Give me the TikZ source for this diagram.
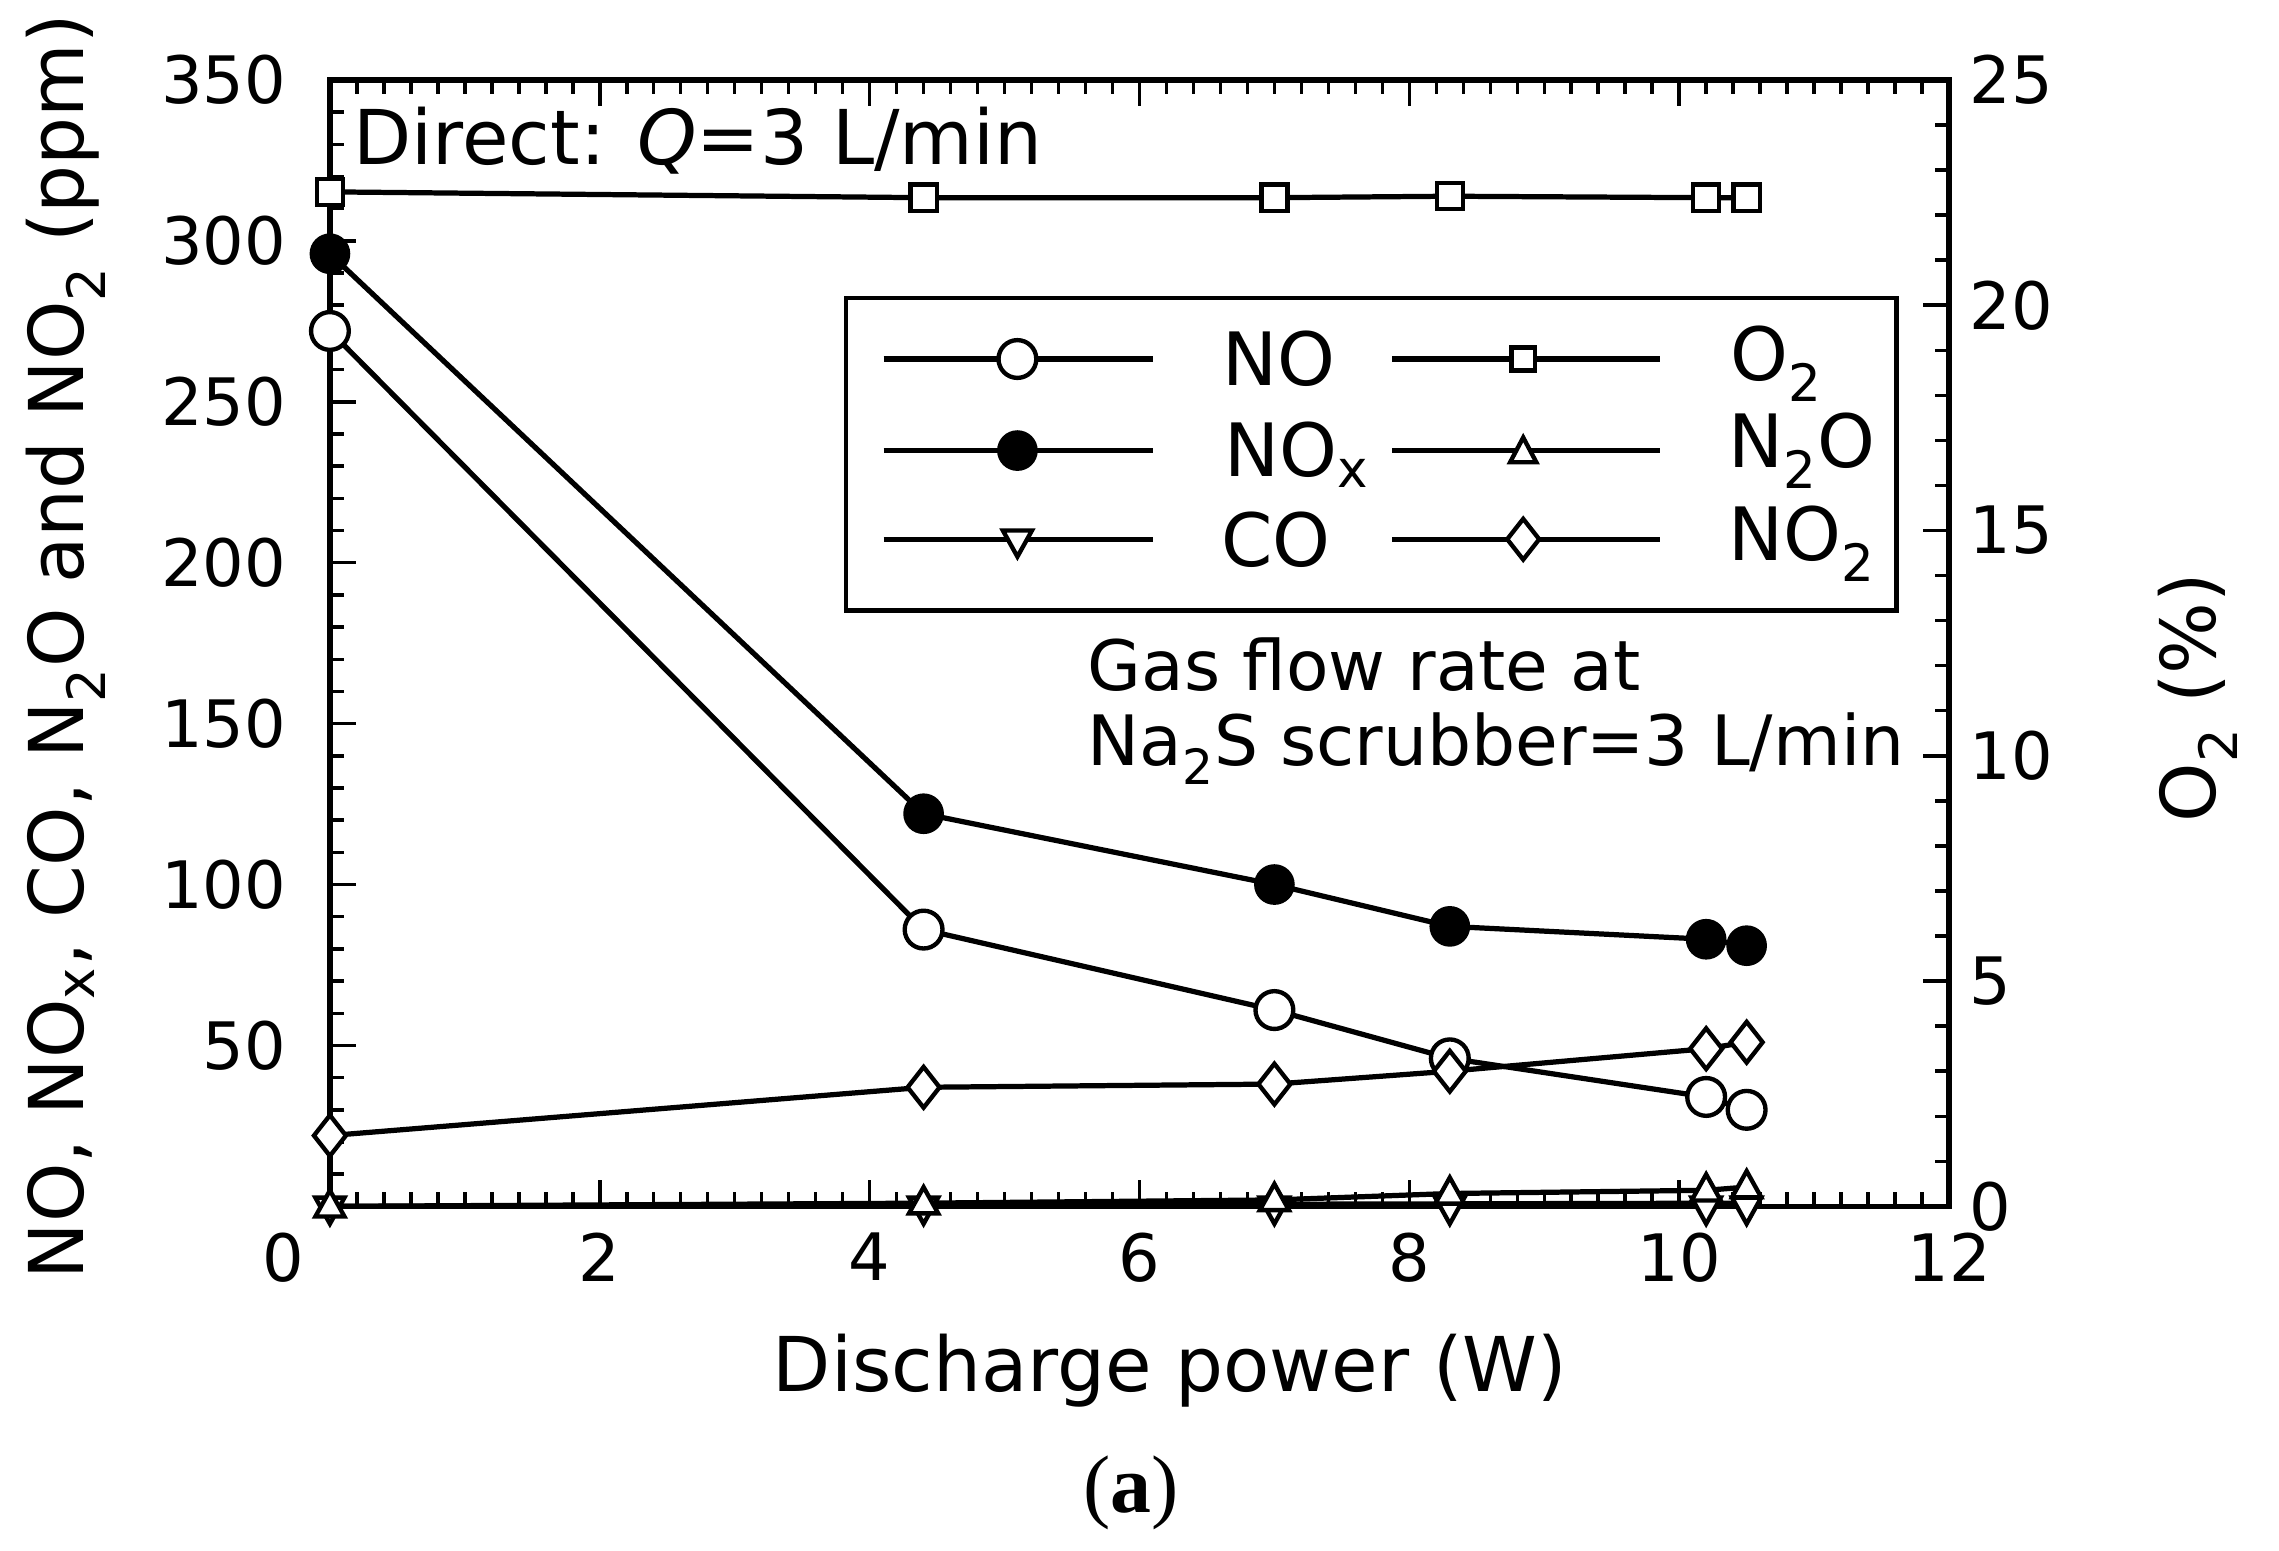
\documentclass[tikz,border=0pt]{standalone}
\usepackage{fontspec}
\setmainfont{DejaVu Sans}
\newfontfamily\serifa{Liberation Serif}
\begin{document}
\begin{tikzpicture}[x=0.25mm,y=-0.25mm,
  lab/.style={font=\fontsize{32}{36}\selectfont, inner sep=0pt},
  big/.style={font=\fontsize{37}{42}\selectfont, inner sep=0pt},
  leg/.style={font=\fontsize{36}{40}\selectfont, inner sep=0pt},
  ln/.style={line width=0.9mm, line join=round},
  mk/.style={line width=0.75mm, fill=white},
  mkf/.style={line width=0.7mm, fill=black}]
\useasboundingbox (0,0) rectangle (1568,1067);
% ticks
\foreach \i in {1,...,59}{
  \pgfmathsetmacro\xx{227+92.83*\i/5}
  \pgfmathsetmacro\len{mod(\i,10)==0?18:10}
  \draw[line width=0.6mm] (\xx,830) -- ++(0,-\len);
  \draw[line width=0.6mm] (\xx,55) -- ++(0,\len);
}
\foreach \i in {1,...,34}{
  \pgfmathsetmacro\yy{830-2.2143*10*\i}
  \pgfmathsetmacro\len{mod(\i,5)==0?18:10}
  \draw[line width=0.6mm] (227,\yy) -- ++(\len,0);
}
\foreach \i in {1,...,24}{
  \pgfmathsetmacro\yy{830-31*\i}
  \pgfmathsetmacro\len{mod(\i,5)==0?18:10}
  \draw[line width=0.6mm] (1341,\yy) -- ++(-\len,0);
}
\draw[line width=0.9mm] (227,55) rectangle (1341,830);
% tick labels
\node[lab,anchor=north] (xt0) at (195,848) {0};
\foreach \v/\t in {2/2,4/4,6/6,8/8,10/10,12/12}{
  \node[lab,anchor=north] (xt\v) at ({227+92.83*\v},848) {\t};}
\node[lab,anchor=east] at (197,55) {350};
\foreach \v in {50,100,...,300}{
  \node[lab,anchor=east] (yl\v) at (197,{830-2.2143*\v}) {\v};}
\foreach \v in {0,5,10,15,20,25}{
  \node[lab,anchor=west] (yr\v) at (1355,{830-31*\v}) {\v};}
% axis titles
\node[big] (xlab) at (805,943) {Discharge power (W)};
\node[big,rotate=90] (ylab) at (45,445) {NO, NO\textsubscript{x}, CO, N\textsubscript{2}O and NO\textsubscript{2} (ppm)};
\node[big,rotate=90] (y2lab) at (1512,480) {O\textsubscript{2} (\%)};
\node[font=\fontsize{40}{44}\selectfont\serifa] (cap) at (778,1027) {(\textbf{a})};
\node[big,anchor=west] (dir) at (243,97) {Direct: \textit{Q}=3 L/min};
\node[lab,font=\fontsize{34}{38}\selectfont,anchor=west] (g1) at (748,457) {Gas flow rate at};
\node[lab,font=\fontsize{34}{38}\selectfont,anchor=west] (g2) at (748,515) {Na\textsubscript{2}S scrubber=3 L/min};
% data
\def\px#1{227+92.83*#1}
\def\py#1{830-2.2143*#1}
% O2
\draw[ln] (\px{0},132) -- (\px{4.4},136) -- (\px{7.0},136) -- (\px{8.3},135) -- (\px{10.2},136) -- (\px{10.5},136);
\foreach \x/\y in {0/132,4.4/136,7.0/136,8.3/135,10.2/136,10.5/136}
  \draw[mk] ({\px{\x}-9},\y-9) rectangle ++(18,18);
% NOx
\draw[ln] (\px{0},{\py{296}}) -- (\px{4.4},{\py{122}}) -- (\px{7.0},{\py{100}}) -- (\px{8.3},{\py{87}}) -- (\px{10.2},{\py{83}}) -- (\px{10.5},{\py{81}});
\foreach \x/\y in {0/296,4.4/122,7.0/100,8.3/87,10.2/83,10.5/81}
  \fill ({\px{\x}},{\py{\y}}) circle (14);
% NO
\draw[ln] (\px{0},{\py{272}}) -- (\px{4.4},{\py{86}}) -- (\px{7.0},{\py{61}}) -- (\px{8.3},{\py{46}}) -- (\px{10.2},{\py{34}}) -- (\px{10.5},{\py{30}});
\foreach \x/\y in {0/272,4.4/86,7.0/61,8.3/46,10.2/34,10.5/30}
  \draw[mk] ({\px{\x}},{\py{\y}}) circle (13);
% NO2
\draw[ln] (\px{0},{\py{22}}) -- (\px{4.4},{\py{37}}) -- (\px{7.0},{\py{38}}) -- (\px{8.3},{\py{42}}) -- (\px{10.2},{\py{49}}) -- (\px{10.5},{\py{51}});
\foreach \x/\y in {0/22,4.4/37,7.0/38,8.3/42,10.2/49,10.5/51}
  \draw[mk] ({\px{\x}},{\py{\y}-14}) -- ++(11,14) -- ++(-11,14) -- ++(-11,-14) -- cycle;
% CO
\draw[ln] (\px{0},{\py{0}}) -- (\px{10.5},{\py{1}});
\foreach \x/\y in {0/0,4.4/0,7.0/0,8.3/0,10.2/0,10.5/0}
  \draw[mk] ({\px{\x}-10},{\py{\y}-6}) -- ++(20,0) -- ++(-10,18) -- cycle;
% N2O
\draw[ln] (\px{0},{\py{0}}) -- (\px{4.4},{\py{1}}) -- (\px{7.0},{\py{2}}) -- (\px{8.3},{\py{4}}) -- (\px{10.2},{\py{5}}) -- (\px{10.5},{\py{6}});
\foreach \x/\y in {0/0,4.4/1,7.0/2,8.3/4,10.2/5,10.5/6}
  \draw[mk] ({\px{\x}-10},{\py{\y}+7}) -- ++(20,0) -- ++(-10,-18) -- cycle;
% legend
\draw[line width=0.8mm,fill=white] (582,205) rectangle (1305,420);
\foreach \y in {247,310,371}{
  \draw[ln] (608,\y) -- (793,\y);
  \draw[ln] (958,\y) -- (1142,\y);}
\draw[mk] (700,247) circle (13);
\fill (700,310) circle (14);
\draw[mk] (690,365) -- ++(20,0) -- ++(-10,18) -- cycle;
\draw[mk] (1040,239) rectangle ++(16,16);
\draw[mk] (1039,318) -- ++(18,0) -- ++(-9,-17) -- cycle;
\draw[mk] (1048,357) -- ++(11,14) -- ++(-11,14) -- ++(-11,-14) -- cycle;
\node[leg] (l1) at (880,247) {NO};
\node[leg] (l2) at (892,313) {NO\textsubscript{x}};
\node[leg] (l3) at (878,371) {CO};
\node[leg] (l4) at (1222,250) {O\textsubscript{2}};
\node[leg] (l5) at (1240,310) {N\textsubscript{2}O};
\node[leg] (l6) at (1240,374) {NO\textsubscript{2}};
\end{tikzpicture}
\end{document}
